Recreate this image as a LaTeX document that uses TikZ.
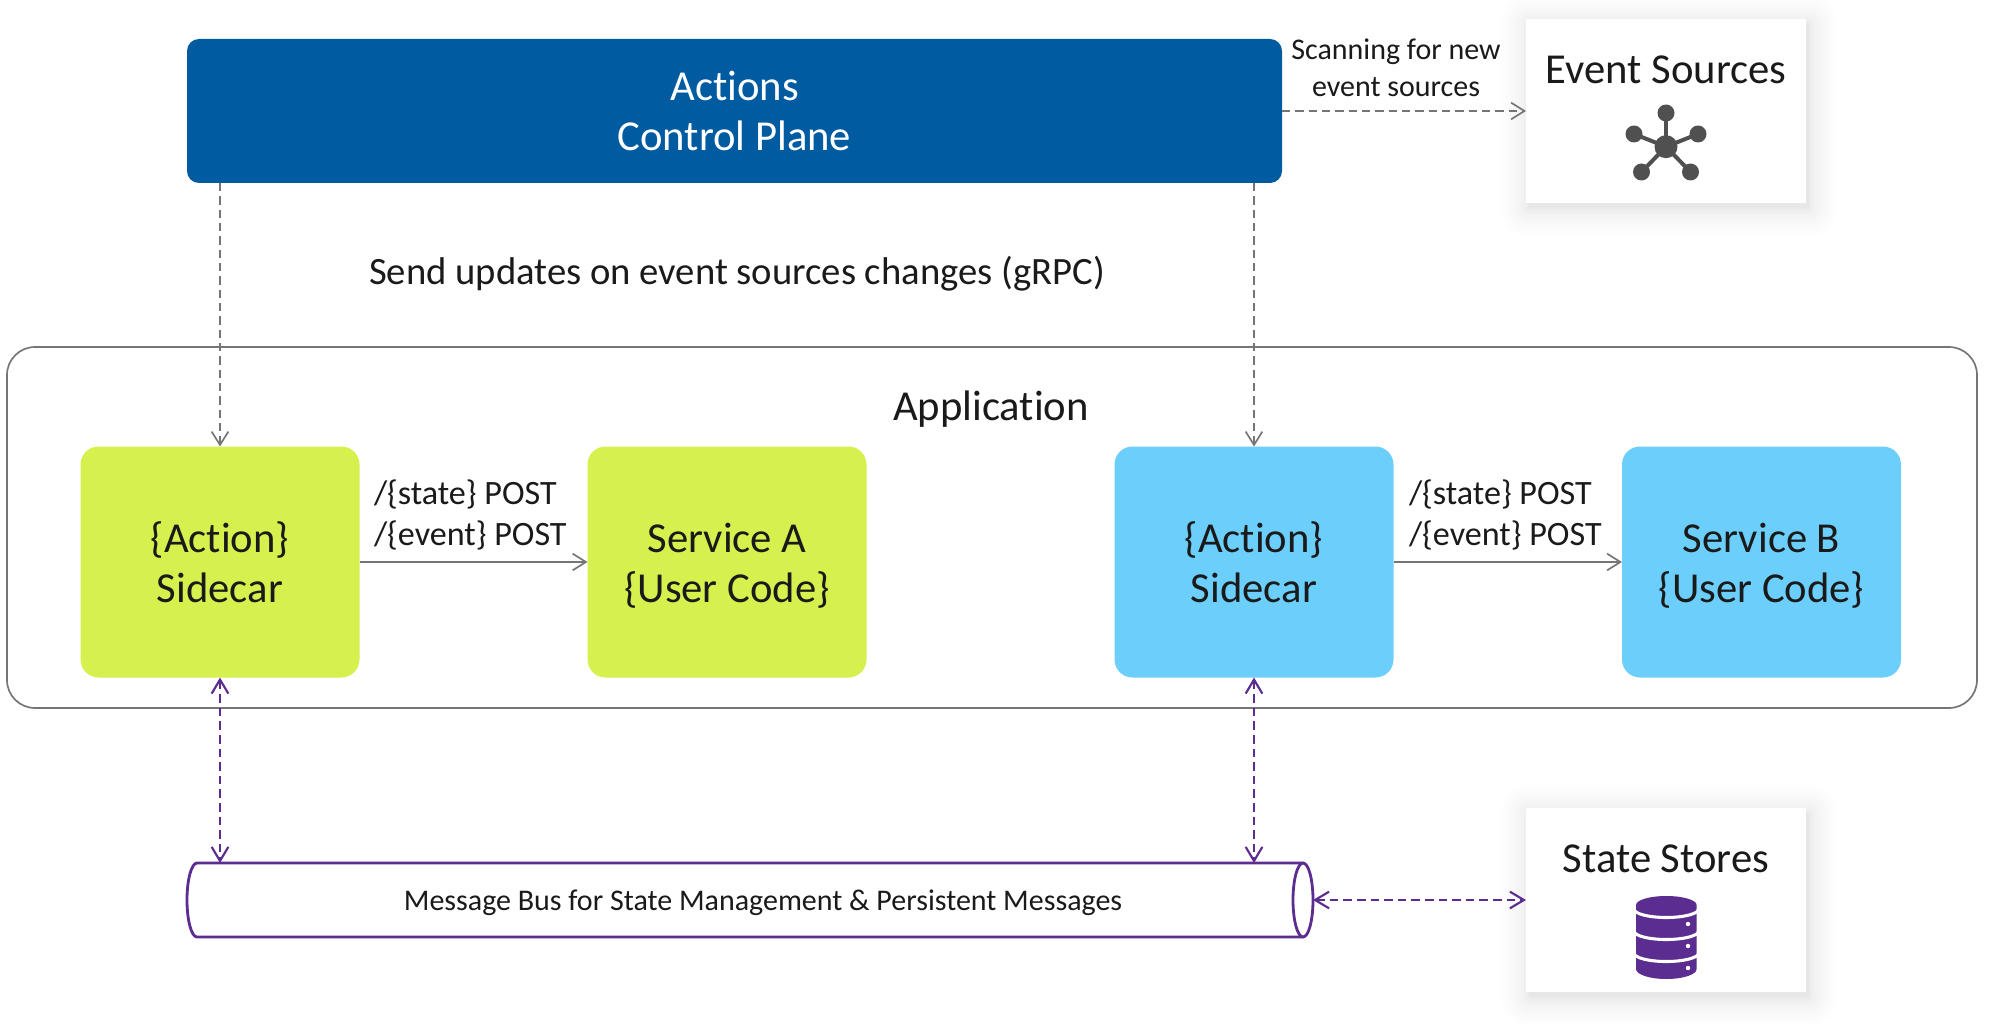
\documentclass[tikz,border=0pt]{standalone}
\usepackage{fontspec}
\setmainfont[Ligatures=NoCommon]{Carlito}
\usetikzlibrary{arrows.meta}
\definecolor{ctlblue}{HTML}{005BA1}
\definecolor{limeg}{HTML}{D6F14E}
\definecolor{skyb}{HTML}{6CCFFB}
\definecolor{purp}{HTML}{5C2D91}
\definecolor{linegray}{HTML}{757575}
\definecolor{ink}{HTML}{1A1A1A}
\definecolor{icong}{HTML}{505050}
\newcommand{\bigfs}{\fontsize{32}{38.2}\selectfont}
\newcommand{\midfs}{\fontsize{29}{38.2}\selectfont}
\newcommand{\lblfs}{\fontsize{25.6}{30.75}\selectfont}
\newcommand{\smallfs}{\fontsize{22.5}{27.7}\selectfont}
\newcommand{\tl}{\rule{0pt}{30.75pt}}
\newcommand{\bl}{\rule[-7.5pt]{0pt}{7.5pt}}
\tikzset{
  x=0.75pt,y=-0.75pt,
  every node/.style={inner sep=0pt,outer sep=0pt,text=ink},
  sized/.style 2 args={minimum width=#1*0.75pt,minimum height=#2*0.75pt},
  svc/.style={rounded corners=13.5pt,font=\bigfs,align=center,sized={279}{231}},
  card/.style={fill=white,sized={280}{184}},
  title/.style={font=\bigfs,anchor=base},
  lbl/.style={font=\lblfs,align=left},
  gdash/.style={draw=linegray,line width=1.25pt,dash pattern=on 6.2pt off 3.8pt,-{Straight Barb[length=10pt,width=12.5pt]}},
  gsolid/.style={draw=linegray,line width=1.25pt,-{Straight Barb[length=10pt,width=12.5pt]}},
  pdash/.style={draw=purp,line width=1.6pt,dash pattern=on 6.4pt off 3.8pt,{Straight Barb[length=10.5pt,width=12.5pt]}-{Straight Barb[length=10.5pt,width=12.5pt]}},
  hub/.style={circle,fill=icong,minimum size=#1*0.75pt},
}
\begin{document}
\begin{tikzpicture}
\useasboundingbox (0,0) rectangle (1992,1027);
\fill[white] (0,0) rectangle (1992,1027);
% soft shadows
\foreach \d in {1,...,24}{
  \pgfmathsetmacro{\g}{\d*\d*0.05}
  \fill[black,opacity=0.004,rounded corners=\g*0.75pt] (1526-\g+3,19-\g+5) rectangle (1806+\g+3,203+\g+5);
  \fill[black,opacity=0.004,rounded corners=\g*0.75pt] (1526-\g+3,808-\g+5) rectangle (1806+\g+3,992+\g+5);
}
% application frame
\node[draw=linegray,line width=1.25pt,rounded corners=21pt,sized={1970}{361}] (app) at (992,527.5) {};
\node[title] (apptitle) at (991,420) {Application};
% control plane
\node[fill=ctlblue,rounded corners=9pt,font=\bigfs,text=white,align=center,sized={1095}{144}] (ctl) at (734.5,111) {Actions\\Control Plane};
\node[font=\midfs] (send) at (737,274) {Send updates on event sources changes (gRPC)};
% services
\node[svc,fill=limeg] (sideA) at (220,562) {\tl\{Action\}\\Sidecar\bl};
\node[svc,fill=limeg] (servA) at (727,562) {\tl Service A\\\{User Code\}\bl};
\node[svc,fill=skyb] (sideB) at (1254,562) {\tl\{Action\}\\Sidecar\bl};
\node[svc,fill=skyb] (servB) at (1761.5,562) {\tl Service B\\\{User Code\}\bl};
\node[lbl,anchor=base west] (lblA) at (374,545) {/\{state\} POST\\/\{event\} POST};
\node[lbl,anchor=base west] (lblB) at (1409,545) {/\{state\} POST\\/\{event\} POST};
% cards
\node[card] (events) at (1666,111) {};
\node[title] (evtitle) at (1666,84) {Event Sources};
\node[card] (stores) at (1666,900) {};
\node[title] (sttitle) at (1666,872) {State Stores};
\node[font=\smallfs,align=center,anchor=base] (scan) at (1396,96.5) {Scanning for new\\event sources};
% event hub icon
\node[hub=23] (hc) at (1666,146.7) {};
\node[hub=17] (h1) at (1666,113) {};
\node[hub=17] (h2) at (1634,134) {};
\node[hub=17] (h3) at (1698,134) {};
\node[hub=17] (h4) at (1641.5,172) {};
\node[hub=17] (h5) at (1690.5,172) {};
\foreach \n in {h1,h2,h3,h4,h5}{\draw[icong,line width=3pt] (hc.center) -- (\n.center);}
% database icon
\fill[purp] (1636,905) -- (1636,969) arc[x radius=30.3,y radius=10,start angle=180,end angle=0] -- (1696.6,905) arc[x radius=30.3,y radius=9,start angle=0,end angle=-180] -- cycle;
\foreach \yy in {909,931,953}{
  \draw[white,line width=2.3pt] (1634,\yy) arc[x radius=32.3,y radius=8.5,start angle=180,end angle=0];
}
\foreach \yy in {924,946,968}{\fill[white] (1688,\yy) circle[radius=2.2];}
% message bus
\node[sized={1126}{74}] (bus) at (750,900) {};
\draw[purp,line width=2.1pt] (1303,863) -- (197,863) arc[x radius=10,y radius=37,start angle=-90,end angle=-270] -- (1303,937);
\draw[purp,line width=2.1pt] (1303,900) ellipse[x radius=10,y radius=37];
\node[font=\smallfs] (bustext) at (763,902.5) {Message Bus for State Management \& Persistent Messages};
% connectors
\draw[gdash] (sideA.north |- ctl.south) -- (sideA.north);
\draw[gdash] (sideB.north |- ctl.south) -- (sideB.north);
\draw[gdash] (ctl.east |- events.center) -- (events.west);
\draw[gsolid] (sideA.east) -- (servA.west);
\draw[gsolid] (sideB.east) -- (servB.west);
\draw[pdash] (sideA.south) -- (sideA.south |- bus.north);
\draw[pdash] (sideB.south) -- (sideB.south |- bus.north);
\draw[pdash] (bus.east) -- (stores.west);
\end{tikzpicture}
\end{document}
